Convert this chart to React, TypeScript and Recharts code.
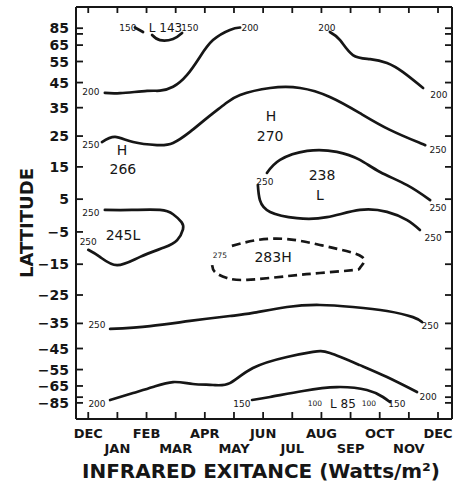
import { ComposedChart, Line, Scatter, XAxis, YAxis } from "recharts";

const INK = "#161616";
const FONT = "'DejaVu Sans', Verdana, sans-serif";

// x = months counted from December (0 .. 12), y = latitude in degrees
const MONTHS = ["DEC", "JAN", "FEB", "MAR", "APR", "MAY", "JUN", "JUL", "AUG", "SEP", "OCT", "NOV", "DEC"];
const MONTH_TICKS = [0, 1, 2, 3, 4, 5, 6, 7, 8, 9, 10, 11, 12];
const LAT_TICKS = [85, 75, 65, 55, 45, 35, 25, 15, 5, -5, -15, -25, -35, -45, -55, -65, -75, -85];
const LAT_UNLABELED = [75, -75];

// contour lines, [month, latitude]
const C150_TOP_A = [[1.6, 89], [1.88, 77.4]];
const C150_TOP_B = [[2.19, 73.7], [2.46, 68.9], [2.91, 69.9], [3.22, 76.1]];
const C200_NORTH = [
  [0.57, 40.7], [1.1, 40.6], [2.02, 41.5], [2.46, 41.6], [2.91, 43.2], [3.39, 48.4],
  [3.83, 57.5], [4.28, 68.9], [4.86, 80.8], [5.21, 89],
];
const C200_NORTHEAST = [
  [8.29, 77.4], [8.64, 68.9], [9.08, 58.6], [9.67, 56.3], [10.25, 54.2], [10.8, 49.7], [11.49, 42.7],
];
const C250_NORTH = [
  [0.47, 23.0], [0.92, 24.7], [1.54, 23.0], [2.36, 22.0], [2.91, 22.7], [3.49, 26.4], [4.07, 31.2],
  [4.69, 36.4], [5.21, 39.9], [6.24, 42.7], [7.27, 42.7], [8.29, 39.1], [9.32, 33.0], [10.35, 27.1],
  [11.38, 22.7], [11.55, 22.0],
];
const C250_LOW238_TOP = [
  [11.73, 4.7], [10.94, 9.3], [10.01, 13.4], [9.32, 17.2], [8.53, 19.8], [7.51, 20.1], [6.58, 17.2], [6.13, 13.1],
];
const C250_LOW238_BOTTOM = [
  [5.82, 9.3], [5.89, 4.7], [6.24, 1.1], [7.16, -0.8], [8.19, -0.5], [9.32, 1.7], [10.25, 1.1],
  [10.94, -1.4], [11.38, -4.4],
];
const C250_LOW245 = [
  [0.57, 1.7], [1.5, 1.7], [2.46, 1.7], [2.91, 0.4], [3.2, -2.0], [3.25, -4.2], [3.05, -7.5],
  [2.6, -9.8], [1.78, -12.7], [0.99, -15.3], [0.4, -12.7], [0.0, -10.5],
];
const C275_HIGH283 = [
  [4.93, -9.3], [5.79, -7.5], [6.82, -7.2], [7.95, -9.0], [8.98, -11.2], [9.39, -12.7], [9.46, -14.3],
  [9.32, -16.2], [9.08, -16.9], [7.95, -17.8], [6.82, -18.8], [5.45, -20.0], [4.76, -19.4],
  [4.35, -17.5], [4.25, -15.3],
];
const C250_SOUTH = [
  [0.75, -37.1], [2.12, -36.0], [3.49, -34.1], [4.86, -32.3], [5.65, -31.2], [6.82, -29.1],
  [7.95, -28.4], [9.08, -29.1], [10.25, -30.5], [11.14, -32.7], [11.45, -34.5],
];
const C200_SOUTH = [
  [0.75, -78.8], [1.54, -70.7], [2.22, -65.8], [2.91, -62.3], [3.59, -63.6], [4.28, -64.3],
  [4.86, -63.0], [5.65, -54.2], [6.82, -48.8], [7.71, -46.5], [8.29, -47.0], [9.32, -52.7],
  [10.25, -59.2], [11.28, -69.8],
];
const C150_SOUTH = [
  [5.62, -78.8], [6.24, -74.8], [7.37, -68.9], [8.53, -65.8], [9.56, -68.1], [10.11, -74.8], [10.35, -82.7],
];

// contour values and centre labels
const LABELS = [
  { m: 1.36, lat: 90, text: "150", kind: "v" },
  { m: 2.65, lat: 85.6, text: "L 143", kind: "m" },
  { m: 3.49, lat: 90, text: "150", kind: "v" },
  { m: 5.55, lat: 90, text: "200", kind: "v" },
  { m: 8.19, lat: 90, text: "200", kind: "v" },
  { m: 0.09, lat: 41.1, text: "200", kind: "v" },
  { m: 12.03, lat: 39.9, text: "200", kind: "v" },
  { m: 0.09, lat: 22.0, text: "250", kind: "v" },
  { m: 12.0, lat: 20.4, text: "250", kind: "v" },
  { m: 6.06, lat: 10.3, text: "250", kind: "v" },
  { m: 12.0, lat: 2.3, text: "250", kind: "v" },
  { m: 11.83, lat: -6.8, text: "250", kind: "v" },
  { m: 0.09, lat: 0.8, text: "250", kind: "v" },
  { m: 0.0, lat: -8.1, text: "250", kind: "v" },
  { m: 4.52, lat: -12.1, text: "275", kind: "s" },
  { m: 0.3, lat: -35.6, text: "250", kind: "v" },
  { m: 11.73, lat: -36.0, text: "250", kind: "v" },
  { m: 0.3, lat: -90, text: "200", kind: "v" },
  { m: 11.66, lat: -74.8, text: "200", kind: "v" },
  { m: 5.27, lat: -90, text: "150", kind: "v" },
  { m: 7.78, lat: -90, text: "100", kind: "s" },
  { m: 8.74, lat: -90, text: "L 85", kind: "m" },
  { m: 9.63, lat: -90, text: "100", kind: "s" },
  { m: 10.59, lat: -90, text: "150", kind: "v" },
  { m: 1.16, lat: 20.4, text: "H", kind: "c" },
  { m: 1.19, lat: 14.3, text: "266", kind: "c" },
  { m: 6.27, lat: 31.9, text: "H", kind: "c" },
  { m: 6.24, lat: 25.0, text: "270", kind: "c" },
  { m: 8.02, lat: 12.5, text: "238", kind: "c" },
  { m: 7.95, lat: 6.3, text: "L", kind: "c" },
  { m: 1.19, lat: -6.0, text: "245L", kind: "c" },
  { m: 6.34, lat: -12.7, text: "283H", kind: "c" },
];

// the latitude axis is area weighted (sine of latitude)
const sinLat = (lat: number) => Math.sin((Math.max(-90, Math.min(90, lat)) * Math.PI) / 180);
const pts = (arr: number[][]) => arr.map(([m, lat]) => ({ m, y: sinLat(lat) }));
const labelPts = LABELS.map((l) => ({ m: l.m, y: sinLat(l.lat), text: l.text, kind: l.kind }));

const X_DOMAIN = [-0.42, 12.48];
const Y_DOMAIN = [-1.082, 1.109];
const SIZES: Record<string, number> = { v: 9, s: 7.5, m: 12, c: 14 };

function LatTick({ x, y, payload, side }: any) {
  const lat = Math.round((Math.asin(payload.value) * 180) / Math.PI);
  const dir = side === "left" ? 1 : -1;
  return (
    <g>
      <line x1={x} y1={y} x2={x + dir * 7} y2={y} stroke={INK} strokeWidth={1.8} />
      {side === "left" && !LAT_UNLABELED.includes(lat) && (
        <text x={x - 7} y={y} dy="0.36em" textAnchor="end" fontFamily={FONT} fontWeight="bold" fontSize={14} fill={INK}>
          {lat < 0 ? `\u2212${-lat}` : lat}
        </text>
      )}
    </g>
  );
}

function MonthTick({ x, y, payload, side }: any) {
  const i = Math.round(payload.value);
  if (side === "top") return <line x1={x} y1={y} x2={x} y2={y + 6} stroke={INK} strokeWidth={1.8} />;
  return (
    <g>
      <line x1={x} y1={y} x2={x} y2={y - 7} stroke={INK} strokeWidth={1.8} />
      <text x={x} y={y + (i % 2 ? 34 : 19)} textAnchor="middle" fontFamily={FONT} fontWeight="bold" fontSize={13} fill={INK}>
        {MONTHS[i]}
      </text>
    </g>
  );
}

function ContourLabel({ cx, cy, payload }: any) {
  return (
    <text x={cx} y={cy} dy="0.36em" textAnchor="middle" fontFamily={FONT} fontSize={SIZES[payload.kind]} fill={INK}>
      {payload.text}
    </text>
  );
}

const lineProps = {
  type: "natural" as const,
  dataKey: "y",
  stroke: INK,
  strokeWidth: 2.7,
  dot: false,
  activeDot: false,
  isAnimationActive: false,
  strokeLinecap: "round" as const,
};

export default function App() {
  return (
    <div style={{ position: "absolute", left: 0, top: 0, background: "#fff" }}>
      <ComposedChart width={456} height={487} margin={{ top: 0, right: 0, bottom: 0, left: 0 }}>
        <XAxis
          dataKey="m" type="number" domain={X_DOMAIN} allowDataOverflow ticks={MONTH_TICKS} interval={0}
          height={68} tickSize={0} tickMargin={0} axisLine={{ stroke: INK, strokeWidth: 2 }} tickLine={false}
          tick={<MonthTick side="bottom" />}
          label={() => (
            <text x={261} y={478} textAnchor="middle" fontFamily={FONT} fontWeight="bold" fontSize={20} fill={INK} textLength={358}>
              INFRARED EXITANCE (Watts/m²)
            </text>
          )}
        />
        <XAxis
          xAxisId="top" orientation="top" dataKey="m" type="number" domain={X_DOMAIN} allowDataOverflow
          ticks={MONTH_TICKS} interval={0} height={7} tickSize={0} tickMargin={0}
          axisLine={{ stroke: INK, strokeWidth: 2 }} tickLine={false} tick={<MonthTick side="top" />}
        />
        <YAxis
          dataKey="y" type="number" domain={Y_DOMAIN} allowDataOverflow ticks={LAT_TICKS.map(sinLat)} interval={0}
          width={76} tickSize={0} tickMargin={0} axisLine={{ stroke: INK, strokeWidth: 2 }} tickLine={false}
          tick={<LatTick side="left" />}
          label={() => (
            <text x={33} y={223} transform="rotate(-90 33 223)" textAnchor="middle" fontFamily={FONT} fontWeight="bold" fontSize={18} fill={INK} textLength={110}>
              LATTITUDE
            </text>
          )}
        />
        <YAxis
          yAxisId="right" orientation="right" dataKey="y" type="number" domain={Y_DOMAIN} allowDataOverflow
          ticks={LAT_TICKS.map(sinLat)} interval={0} width={4} tickSize={0} tickMargin={0}
          axisLine={{ stroke: INK, strokeWidth: 2 }} tickLine={false} tick={<LatTick side="right" />}
        />

        <Line {...lineProps} data={pts(C150_TOP_A)} />
        <Line {...lineProps} data={pts(C150_TOP_B)} />
        <Line {...lineProps} data={pts(C200_NORTH)} />
        <Line {...lineProps} data={pts(C200_NORTHEAST)} />
        <Line {...lineProps} data={pts(C250_NORTH)} />
        <Line {...lineProps} data={pts(C250_LOW238_TOP)} />
        <Line {...lineProps} data={pts(C250_LOW238_BOTTOM)} />
        <Line {...lineProps} data={pts(C250_LOW245)} />
        <Line {...lineProps} data={pts(C275_HIGH283)} strokeDasharray="9 5" strokeLinecap="butt" />
        <Line {...lineProps} data={pts(C250_SOUTH)} />
        <Line {...lineProps} data={pts(C200_SOUTH)} />
        <Line {...lineProps} data={pts(C150_SOUTH)} />

        <Scatter data={labelPts} dataKey="y" shape={<ContourLabel />} isAnimationActive={false} />
      </ComposedChart>
    </div>
  );
}
